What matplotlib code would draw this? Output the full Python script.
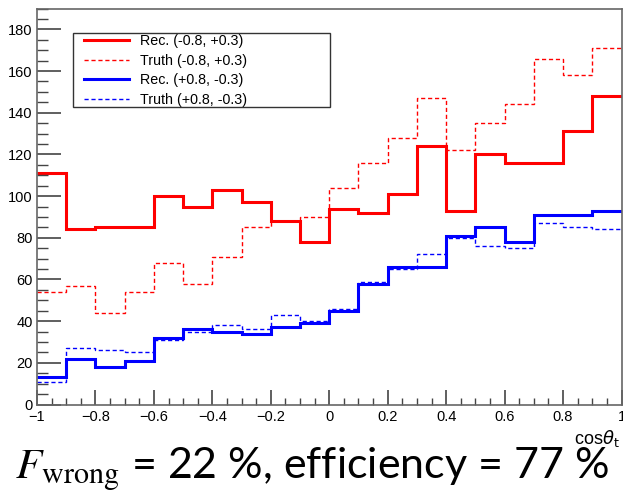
import matplotlib.pyplot as plt
import numpy as np
from matplotlib.patches import Rectangle
from matplotlib.ticker import MultipleLocator

plt.rcParams['font.family'] = ['Liberation Sans', 'DejaVu Sans']
plt.rcParams['mathtext.fontset'] = 'stix'

# cos(theta_t) bins
edges = np.linspace(-1, 1, 21)

rec_m08 = [111, 84, 85, 85, 100, 95, 103, 97, 88, 78,
           94, 92, 101, 124, 93, 120, 116, 116, 131, 148]
truth_m08 = [54, 57, 44, 54, 68, 58, 71, 85, 88, 90,
             104, 116, 128, 147, 122, 135, 144, 166, 158, 171]
rec_p08 = [13, 22, 18, 21, 32, 36, 35, 34, 37, 39,
           45, 58, 66, 66, 81, 85, 78, 91, 91, 93]
truth_p08 = [11, 27, 26, 25, 31, 35, 38, 36, 43, 40,
             46, 59, 65, 72, 80, 76, 75, 87, 85, 84]

labels = ["Rec. (-0.8, +0.3)", "Truth (-0.8, +0.3)",
          "Rec. (+0.8, -0.3)", "Truth (+0.8, -0.3)"]
f_wrong = 22
efficiency = 77

W, H = 623, 495
fig = plt.figure(figsize=(W / 100, H / 100), dpi=100)
ax = fig.add_axes([37 / W, 90.5 / H, 584.5 / W, 396 / H])

dash = (0, (3, 2))
ax.stairs(rec_m08, edges, baseline=None, color='#ff0000', lw=2.2, label=labels[0])
ax.stairs(truth_m08, edges, baseline=None, color='#ff0000', lw=1.0, ls=dash, label=labels[1])
ax.stairs(rec_p08, edges, baseline=None, color='#0000ff', lw=2.2, label=labels[2])
ax.stairs(truth_p08, edges, baseline=None, color='#0000ff', lw=1.0, ls=dash, label=labels[3])

ax.set_xlim(-1, 1)
ax.set_ylim(0, 190)
ax.xaxis.set_major_locator(MultipleLocator(0.2))
ax.xaxis.set_minor_locator(MultipleLocator(0.05))
ax.yaxis.set_major_locator(MultipleLocator(20))
ax.yaxis.set_minor_locator(MultipleLocator(5))


def xfmt(v, pos):
    if abs(v) < 1e-9:
        return '0'
    if abs(abs(v) - 1) < 1e-9:
        return '\u22121' if v < 0 else '1'
    return f'{v:.1f}'.replace('-', '\u2212')


ax.xaxis.set_major_formatter(xfmt)

ax.tick_params(which='both', direction='in', top=False, right=False,
               color='#444444', labelsize=10.5)
ax.tick_params(axis='y', which='major', length=17, width=1.2, pad=3)
ax.tick_params(axis='y', which='minor', length=8, width=1.0)
ax.tick_params(axis='x', which='major', length=11, width=1.2, pad=4)
ax.tick_params(axis='x', which='minor', length=5, width=1.0)
for s in ax.spines.values():
    s.set_color('#666666')
    s.set_linewidth(1.2)

# legend entries without frame, box drawn separately
leg = ax.legend(loc='upper left', bbox_to_anchor=(83 / W, 1 - 33 / H),
                bbox_transform=fig.transFigure, fontsize=10.3, frameon=False,
                handlelength=3.15, handletextpad=0.7, borderpad=0.1,
                labelspacing=0.38, borderaxespad=0)
fig.patches.append(Rectangle((73 / W, 1 - 107 / H), (330 - 73) / W, 74 / H,
                             transform=fig.transFigure, fill=False,
                             edgecolor='#333333', lw=1.0, zorder=5))

fig.text(620 / W, 1 - 444 / H, r'cos$\theta_{\mathrm{t}}$', ha='right',
         va='baseline', fontsize=13, family=['Liberation Sans'],
         math_fontfamily='dejavusans')

fig.text(15 / W, 1 - 479 / H,
         r'$F_{\mathrm{wrong}}$' + f' = {f_wrong} %, efficiency = {efficiency} %',
         ha='left', va='baseline', fontsize=31, family=['Lato', 'DejaVu Sans'])

fig.savefig('out.png', dpi=100)
